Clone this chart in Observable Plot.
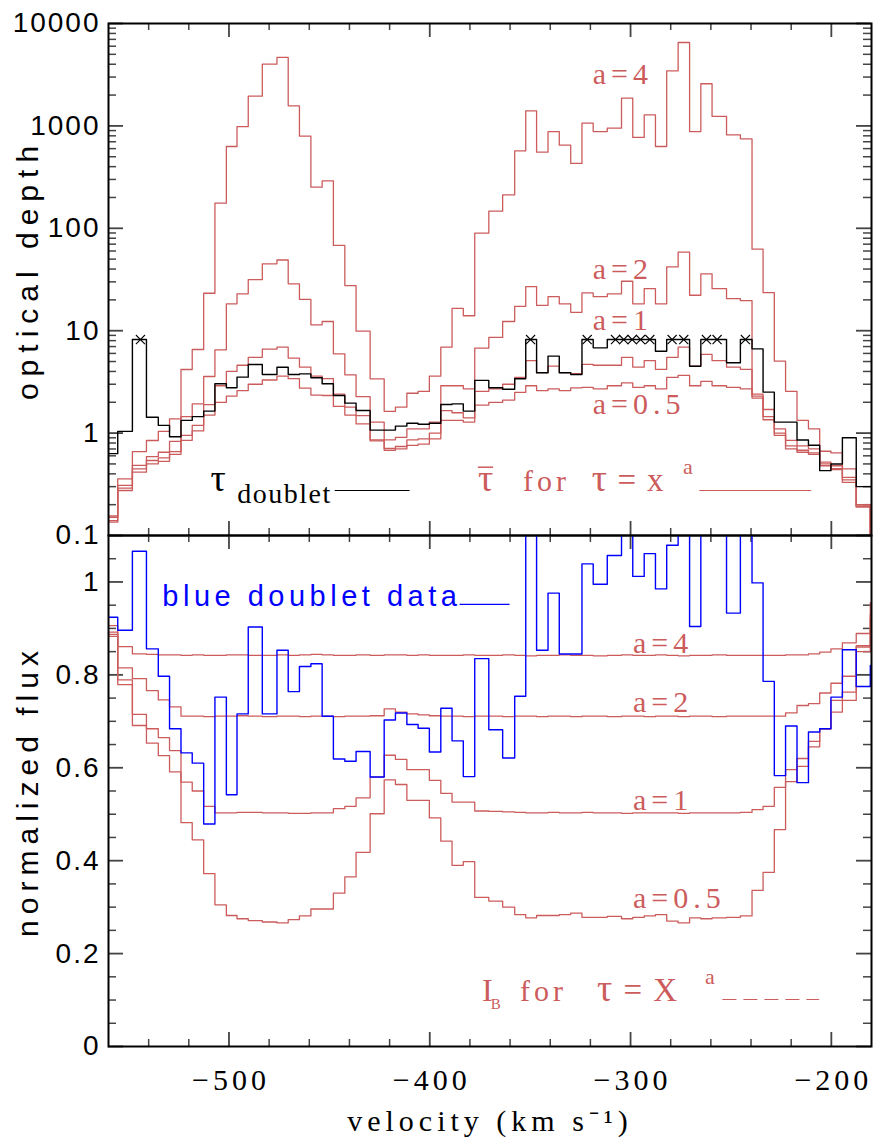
<!DOCTYPE html>
<html><head><meta charset="utf-8">
<script src="https://cdn.jsdelivr.net/npm/d3@7"></script>
<script src="https://cdn.jsdelivr.net/npm/@observablehq/plot@0.6"></script>
<style>
html,body{margin:0;padding:0;background:#fff;}
#wrap{position:relative;width:878px;height:1140px;overflow:hidden;}
#topPanel,#botPanel{position:absolute;left:0;}
#topPanel{top:0;} #botPanel{top:510px;}
</style></head><body><div id="wrap"><div id="topPanel"></div><div id="botPanel"></div></div>
<script>
// ---------- DATA ----------
// velocity bin edges (km/s)
const edges = [-560.0,-555.4,-548.1,-541.1,-535.2,-529.6,-523.9,-518.3,-512.6,-507.0,-501.3,-496.0,-490.4,-483.4,-476.1,-470.5,-464.9,-459.2,-453.6,-448.0,-442.3,-436.7,-429.7,-422.7,-417.1,-411.4,-405.8,-400.2,-394.5,-388.9,-383.3,-377.6,-370.6,-363.7,-357.7,-352.2,-346.8,-341.1,-335.5,-329.8,-324.2,-318.6,-311.6,-304.5,-298.9,-293.2,-287.6,-282.0,-276.3,-270.6,-265.0,-259.4,-252.2,-245.3,-239.5,-234.0,-228.4,-222.8,-217.1,-211.4,-205.8,-200.2,-194.5,-187.6,-180.6,-175];

// optical depth, tau_doublet (black)
const tauDoublet = [0.63,1.04,8.2,1.43,1.19,0.92,1.33,1.45,1.64,3.03,
 2.77,3.52,4.68,3.73,4.40,3.73,3.79,3.47,3.03,2.33,
 1.96,1.66,1.07,1.07,1.17,1.25,1.22,1.25,1.90,1.93,
 1.64,3.27,2.77,2.68,3.39,8.2,3.88,5.64,3.88,3.73,
 8.2,6.8,8.2,8.2,8.2,8.2,6.3,8.2,8.2,4.5,
 8.2,8.2,4.86,8.2,6.65,2.51,1.28,1.28,0.855,0.76,
 0.43,0.50,0.90,0.30,0.30];
// saturated points (x markers)
const saturatedV = [-544.1,-349.8,-321.6,-307.5,-303.4,-299.2,-295.0,-290.4,-279.3,-273.5,-262.2,-256.9,-242.8];
const saturatedTau = 8.2;

// mean tau for tau = x^a
const tauA4 = [0.155,0.358,0.66,0.847,1.04,1.38,4.18,6.55,23.2,176,
 629,986,1950,4010,4660,1570,794,252,291,68,
 27.6,9.9,3.39,1.63,1.79,2.45,2.55,3.6,6.9,16.5,
 14.0,89.6,147,212,571,1400,554,881,649,430,
 1064,881,951,1866,771,1282,629,3450,6520,881,
 2580,1237,818,748,62.5,23.5,5.04,2.56,1.33,1.10,
 0.665,0.64,0.448,0.19,0.05];
const tauA2 = [0.15,0.308,0.483,0.59,0.65,0.83,1.45,1.93,3.57,6.5,
 18.3,22.9,31.6,45,49,28.7,20.2,11.4,12.3,5.95,
 3.71,2.27,1.28,0.86,0.91,1.1,1.1,1.28,2.9,2.9,
 2.7,6.75,8.6,12.3,17.3,26.9,17.7,21.5,18.3,15.1,
 23.4,21.5,22.9,30.4,18.3,25.7,18.3,42,58.5,22.2,
 35.9,25.7,20.6,19.7,2.4,1.7,1.1,0.85,0.75,0.70,
 0.52,0.48,0.37,0.20,0.05];
const tauA1 = [0.14,0.29,0.448,0.54,0.573,0.66,0.95,1.19,1.9,2.9,
 4.0,4.6,5.5,6.6,6.9,5.4,4.4,3.6,3.4,2.4,
 1.79,1.48,0.86,0.71,0.74,0.86,0.88,1.0,1.66,1.58,
 1.41,2.55,2.7,3.0,3.5,5.1,3.9,4.5,3.9,3.8,
 4.7,4.6,4.6,5.5,4.4,5.1,4.2,5.5,6.9,4.5,
 5.86,5.1,4.4,4.2,2.3,1.45,1.0,0.75,0.68,0.64,
 0.50,0.45,0.35,0.195,0.05];
const tauA05 = [0.135,0.275,0.415,0.50,0.53,0.62,0.85,1.05,1.5,2.0,
 2.3,2.6,3.0,3.3,3.6,3.4,2.75,2.35,2.33,1.82,
 1.5,1.23,0.84,0.68,0.70,0.76,0.78,0.88,1.33,1.33,
 1.28,1.88,2.0,2.1,2.5,2.9,2.6,2.7,2.6,2.77,
 2.8,2.7,2.9,3.1,2.8,2.9,2.7,3.5,3.66,2.9,
 3.2,2.9,2.8,2.7,2.2,1.35,0.95,0.70,0.65,0.62,
 0.48,0.44,0.33,0.19,0.05];

// normalized flux, blue doublet data
const fluxBlue = [0.924,0.896,1.066,0.856,0.797,0.684,0.632,0.610,0.479,0.752,
 0.542,0.716,0.903,0.716,0.853,0.764,0.818,0.824,0.711,0.619,
 0.614,0.635,0.580,0.703,0.718,0.693,0.685,0.634,0.728,0.658,
 0.581,0.835,0.682,0.621,0.754,1.25,0.853,0.976,0.845,0.845,
 1.039,0.995,1.057,1.25,1.012,1.061,0.985,1.079,1.25,0.904,
 1.25,1.25,0.933,1.25,0.998,0.786,0.583,0.690,0.568,0.677,
 0.684,0.752,0.854,0.775,0.82];
// I_B for tau = X^a
const ibA4 = [0.906,0.861,0.845,0.844,0.843,0.843,0.842,0.843,0.842,0.842,
 0.843,0.843,0.842,0.842,0.843,0.842,0.843,0.844,0.843,0.842,
 0.842,0.843,0.842,0.843,0.843,0.842,0.843,0.842,0.842,0.842,
 0.843,0.842,0.842,0.843,0.842,0.841,0.842,0.842,0.843,0.842,
 0.842,0.841,0.842,0.843,0.842,0.842,0.843,0.842,0.841,0.842,
 0.842,0.843,0.842,0.842,0.842,0.842,0.842,0.843,0.843,0.845,
 0.849,0.856,0.869,0.889,0.955];
const ibA2 = [0.892,0.815,0.792,0.766,0.746,0.731,0.711,0.711,0.710,0.711,
 0.711,0.712,0.711,0.710,0.711,0.711,0.710,0.711,0.711,0.710,
 0.711,0.711,0.712,0.727,0.720,0.716,0.714,0.712,0.711,0.711,
 0.710,0.711,0.711,0.710,0.711,0.711,0.710,0.711,0.711,0.710,
 0.711,0.711,0.710,0.711,0.711,0.710,0.711,0.711,0.710,0.711,
 0.711,0.710,0.711,0.711,0.711,0.711,0.711,0.718,0.734,0.738,
 0.761,0.782,0.797,0.860,0.930];
const ibA1 = [0.887,0.789,0.715,0.684,0.665,0.637,0.569,0.550,0.517,0.503,
 0.503,0.504,0.504,0.503,0.503,0.502,0.502,0.503,0.503,0.512,
 0.517,0.535,0.580,0.627,0.618,0.596,0.596,0.573,0.545,0.526,
 0.526,0.507,0.506,0.505,0.504,0.503,0.503,0.504,0.503,0.503,
 0.504,0.503,0.503,0.502,0.503,0.503,0.503,0.503,0.502,0.503,
 0.503,0.503,0.503,0.504,0.510,0.517,0.558,0.596,0.620,0.657,
 0.684,0.745,0.763,0.863,0.900];
const ibA05 = [0.883,0.779,0.691,0.653,0.626,0.591,0.482,0.445,0.372,0.305,
 0.282,0.275,0.271,0.268,0.266,0.273,0.281,0.296,0.296,0.330,
 0.365,0.418,0.501,0.574,0.564,0.530,0.530,0.492,0.442,0.390,
 0.398,0.321,0.313,0.300,0.284,0.277,0.282,0.282,0.284,0.287,
 0.278,0.278,0.280,0.275,0.278,0.281,0.284,0.270,0.266,0.277,
 0.275,0.277,0.278,0.281,0.336,0.375,0.467,0.570,0.603,0.645,
 0.684,0.720,0.745,0.850,0.920];

// axes / ticks
const xDomain = [-560, -180];
const xMajor = [-500, -400, -300, -200];
const xMinor = d3.range(-540, -180, 20).filter(d => d % 100 !== 0);
const tauDomain = [0.1, 10000];
const tauMajor = [0.1, 1, 10, 100, 1000, 10000];
const tauMinor = [0.1, 1, 10, 100, 1000].flatMap(d => d3.range(2, 10).map(m => d * m));
const fluxDomain = [0, 1.1];
const fluxMajor = [0, 0.2, 0.4, 0.6, 0.8, 1];
const fluxMinor = d3.range(1, 22).map(i => i * 0.05).filter(v => Math.abs(v / 0.2 - Math.round(v / 0.2)) > 1e-6);

// ---------- STYLE ----------
const RED = "#cc5c5c", BLUE = "#0000ff", TICK = "#444";
// font stacks; the dummy "lsN" family name is a marker used to apply letter spacing (N/2 px)
const sans = n => `Liberation Sans, ls${n}, Arial, sans-serif`;
const serif = n => `Liberation Serif, ls${n}, Times New Roman, serif`;
const W = 878, ML = 108, MR = 7;
const FW = W - ML - MR;

function steps(vals) {
  const pts = vals.map((v, i) => ({x: edges[i], y: v}));
  pts.push({x: edges[vals.length], y: vals[vals.length - 1]});
  return pts;
}
function stepLine(vals, stroke, sw = 1.3) {
  return Plot.line(steps(vals), {x: "x", y: "y", curve: "step-after", stroke, strokeWidth: sw, clip: true});
}
function frameTicks(FH, yMaj, yMin) {
  return [
    Plot.tickX(xMinor, {x: d => d, insetBottom: FH - 7, stroke: TICK, strokeWidth: 1.5}),
    Plot.tickX(xMajor, {x: d => d, insetBottom: FH - 14, stroke: TICK, strokeWidth: 1.8}),
    Plot.tickX(xMinor, {x: d => d, insetTop: FH - 7, stroke: TICK, strokeWidth: 1.5}),
    Plot.tickX(xMajor, {x: d => d, insetTop: FH - 14, stroke: TICK, strokeWidth: 1.8}),
    Plot.tickY(yMin, {y: d => d, insetRight: FW - 8, stroke: TICK, strokeWidth: 1.5}),
    Plot.tickY(yMaj, {y: d => d, insetRight: FW - 15, stroke: TICK, strokeWidth: 1.8}),
    Plot.tickY(yMin, {y: d => d, insetLeft: FW - 8, stroke: TICK, strokeWidth: 1.5}),
    Plot.tickY(yMaj, {y: d => d, insetLeft: FW - 15, stroke: TICK, strokeWidth: 1.8})
  ];
}
function lbl(text, x, y, o = {}) {
  return Plot.text([text], {x: () => x, y: () => y, text: d => d, textAnchor: "start", lineAnchor: "bottom",
    fontSize: 30, fontFamily: serif(10), fill: RED, ...o});
}
function spacing(svg) {
  svg.querySelectorAll("g[font-family]").forEach(g => {
    const m = /ls(\d+)/.exec(g.getAttribute("font-family"));
    if (m) g.querySelectorAll("text").forEach(t => t.style.letterSpacing = (+m[1] / 2) + "px");
  });
}

// ---------- TOP PANEL ----------
const FH1 = 512;
const topPlot = Plot.plot({
  width: W, height: 560, marginLeft: ML, marginRight: MR, marginTop: 23, marginBottom: 25,
  x: {domain: xDomain, axis: null},
  y: {type: "log", domain: tauDomain, axis: null},
  style: {background: "transparent", overflow: "visible"},
  marks: [
    ...frameTicks(FH1, tauMajor, tauMinor),
    stepLine(tauA05, RED), stepLine(tauA1, RED), stepLine(tauA2, RED), stepLine(tauA4, RED),
    stepLine(tauDoublet, "#000", 1.4),
    Plot.dot(saturatedV, {x: d => d, y: () => saturatedTau, symbol: "times", r: 4.2, stroke: "#000", strokeWidth: 1.1}),
    Plot.frame({stroke: "#000", strokeWidth: 2}),
    Plot.text(tauMajor, {y: d => d, text: d => String(d), frameAnchor: "left", textAnchor: "end", dx: -8,
      fontSize: 28, fontFamily: sans(4), fill: "#000"}),
    Plot.text(["optical depth"], {frameAnchor: "left", textAnchor: "middle", dx: -80, dy: -10, rotate: -90, fontSize: 30,
      fontFamily: sans(14), fill: "#000"}),
    lbl("a=4", -318.8, 2594),
    lbl("a=2", -318.8, 32.3),
    lbl("a=1", -318.8, 10.05),
    lbl("a=0.5", -318.8, 1.52),
    // tau_doublet legend
    lbl("τ", -509.2, 0.275, {fill: "#000", fontSize: 38, fontFamily: serif(0)}),
    lbl("doublet", -495.9, 0.2054, {fill: "#000", fontSize: 28, fontFamily: serif(3)}),
    Plot.ruleY([0.275], {x1: -447.1, x2: -409.8, stroke: "#000", strokeWidth: 1.2}),
    // mean tau legend
    lbl("τ", -376.0, 0.275, {fontSize: 38, fontFamily: serif(0)}),
    Plot.ruleY([0.4645], {x1: -375.8, x2: -368.2, stroke: RED, strokeWidth: 1.5}),
    lbl("for", -353.6, 0.275, {fontFamily: serif(8)}),
    lbl("τ", -319.3, 0.275, {fontSize: 38, fontFamily: serif(0)}),
    lbl("=x", -306.5, 0.275, {fontSize: 33, fontFamily: serif(22)}),
    lbl("a", -273.9, 0.4027, {fontSize: 22, fontFamily: serif(0)}),
    Plot.ruleY([0.275], {x1: -265.5, x2: -209.8, stroke: RED, strokeWidth: 1.2})
  ]
});
spacing(topPlot);
document.getElementById("topPanel").appendChild(topPlot);

// ---------- BOTTOM PANEL ----------
const FH2 = 511;
const botPlot = Plot.plot({
  width: W, height: 630, marginLeft: ML, marginRight: MR, marginTop: 25, marginBottom: 94,
  x: {domain: xDomain, axis: null},
  y: {domain: fluxDomain, axis: null},
  style: {background: "transparent", overflow: "visible"},
  marks: [
    ...frameTicks(FH2, fluxMajor, fluxMinor),
    stepLine(ibA05, RED), stepLine(ibA1, RED), stepLine(ibA2, RED), stepLine(ibA4, RED),
    stepLine(fluxBlue, BLUE, 1.4),
    Plot.frame({stroke: "#000", strokeWidth: 2}),
    Plot.text(fluxMajor, {y: d => d, text: d => String(d), frameAnchor: "left", textAnchor: "end", dx: -8,
      fontSize: 28, fontFamily: sans(4), fill: "#000"}),
    Plot.text(xMajor, {x: d => d, text: d => "\u2212" + Math.abs(d), frameAnchor: "bottom", lineAnchor: "top", dy: 22,
      dx: 2, fontSize: 30, fontFamily: serif(8), fill: "#000"}),
    Plot.text(["velocity (km s\u207B\u00B9)"], {frameAnchor: "bottom", lineAnchor: "middle", dy: 75, fontSize: 30,
      fontFamily: serif(10), fill: "#000"}),
    Plot.text(["normalized flux"], {frameAnchor: "left", textAnchor: "middle", dx: -80, rotate: -90, fontSize: 30,
      fontFamily: sans(12), fill: "#000"}),
    lbl("blue doublet data", -533.2, 0.949, {fontFamily: sans(9), fontSize: 29, fill: BLUE}),
    Plot.ruleY([0.9516], {x1: -384.9, x2: -360.0, stroke: BLUE, strokeWidth: 1.2}),
    lbl("a=4", -298.8, 0.848),
    lbl("a=2", -298.8, 0.719),
    lbl("a=1", -298.8, 0.510),
    lbl("a=0.5", -298.8, 0.299),
    lbl("I", -374.0, 0.099, {fontSize: 32, fontFamily: serif(0)}),
    lbl("B", -369.6, 0.0818, {fontSize: 15, fontFamily: serif(0)}),
    lbl("for", -355.0, 0.099, {fontFamily: serif(8)}),
    lbl("τ", -316.7, 0.099, {fontSize: 38, fontFamily: serif(0)}),
    lbl("=X", -303.5, 0.099, {fontSize: 33, fontFamily: serif(22)}),
    lbl("a", -262.9, 0.1356, {fontSize: 22, fontFamily: serif(0)}),
    Plot.ruleY([0.1012], {x1: -254.0, x2: -205.8, stroke: RED, strokeWidth: 1.2, strokeDasharray: "14,7"})
  ]
});
spacing(botPlot);
document.getElementById("botPanel").appendChild(botPlot);
</script></body></html>
